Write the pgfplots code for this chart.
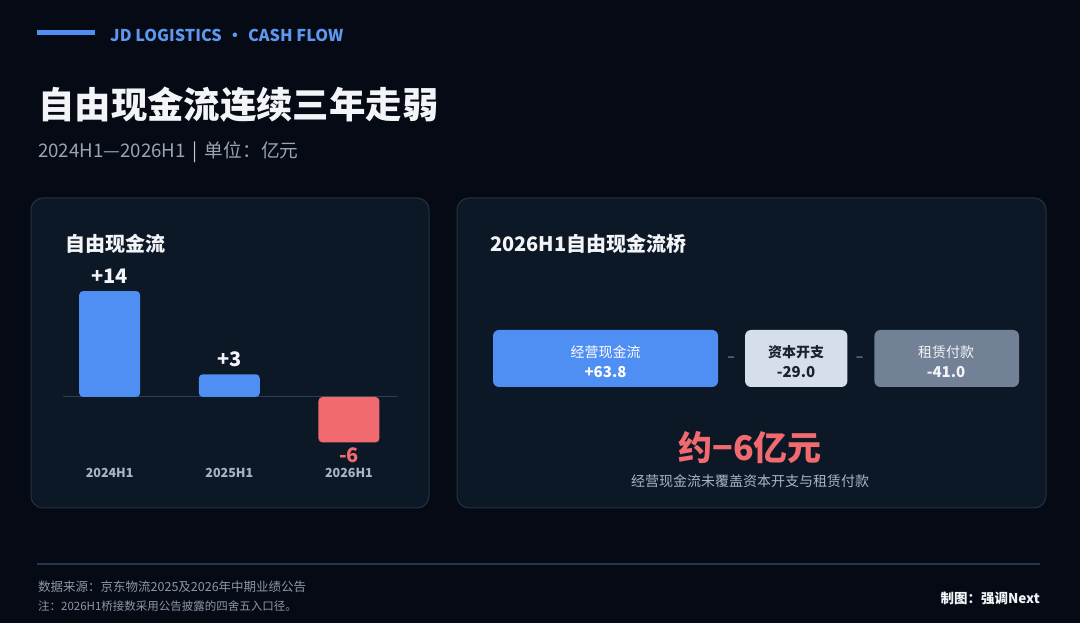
\documentclass[border=0pt]{standalone}
\usepackage{pgfplots}
\pgfplotsset{compat=1.18}
\usepackage{fontspec}
\setmainfont{Noto Sans CJK SC}
\definecolor{bg}{HTML}{050A14}
\definecolor{panel}{HTML}{0D1826}
\definecolor{panelborder}{HTML}{243246}
\definecolor{barblue}{HTML}{4F8EF2}
\definecolor{barred}{HTML}{F06A70}
\definecolor{headblue}{HTML}{5F97EE}
\definecolor{titlewhite}{HTML}{F2F4F8}
\definecolor{subgray}{HTML}{9AA4B2}
\definecolor{catgray}{HTML}{A9B4C4}
\definecolor{lightbox}{HTML}{D5DEEB}
\definecolor{graybox}{HTML}{738197}
\definecolor{sepline}{HTML}{22364F}
\definecolor{zeroline}{HTML}{2C3F58}
\definecolor{darktext}{HTML}{182232}
\definecolor{foot}{HTML}{8D97A6}
\newcommand\fs[1]{\fontsize{#1}{#1}\selectfont}
\begin{document}
\begin{tikzpicture}
\begin{scope}[x=1pt,y=-1pt,yshift=623pt]
\fill[bg] (0,0) rectangle (1080,623);
% header
\fill[barblue] (37,30) rectangle (95,35);
\node[anchor=west,inner sep=0,text=headblue] at (110,35.5) {\fs{16.3}\bfseries JD LOGISTICS\hspace{5pt}·\hspace{5pt}CASH FLOW};
\node[anchor=west,inner sep=0,text=titlewhite] at (38,105) {\fs{36.4}\bfseries 自由现金流连续三年走弱};
\node[anchor=west,inner sep=0,text=subgray] at (38,152) {\fs{18.7}2024H1—2026H1\hspace{7pt}{\color{subgray!60}|}\hspace{7pt}单位：亿元};
% panels
\draw[panelborder,fill=panel,rounded corners=12pt,line width=1pt] (31,198) rectangle (429,508);
\draw[panelborder,fill=panel,rounded corners=12pt,line width=1pt] (457,198) rectangle (1046,508);
\node[anchor=west,inner sep=0,text=titlewhite] at (65,244) {\fs{20}\bfseries 自由现金流};
\node[anchor=west,inner sep=0,text=titlewhite] at (490,244) {\fs{20}\bfseries 2026H1自由现金流桥};
\end{scope}
% left bar chart
\begin{axis}[at={(63pt,165.44pt)},anchor=south west,scale only axis,
  width=335pt,height=189.25pt,
  xmin=-0.39,xmax=2.41,ymin=-8,ymax=17,
  axis line style={draw=none},major tick length=0pt,
  ytick=\empty,xtick={0,1,2},xticklabels={2024H1,2025H1,2026H1},
  xticklabel style={font=\fs{12.5}\bfseries,text=catgray,yshift=-7pt},
  clip=false]
\draw[zeroline,line width=1pt] (axis cs:-0.39,0) -- (axis cs:2.41,0);
\addplot[ybar,bar width=61pt,bar shift=0pt,fill=barblue,draw=none,rounded corners=4pt,
  nodes near coords,point meta=explicit symbolic,
  every node near coord/.append style={font=\fs{20}\bfseries,text=titlewhite,anchor=south,yshift=4pt}]
  coordinates {(0,14)[+14] (1,3)[+3]};
\addplot[ybar,bar width=61pt,bar shift=0pt,fill=barred,draw=none,rounded corners=4pt,
  nodes near coords,point meta=explicit symbolic,
  every node near coord/.append style={font=\fs{20}\bfseries,text=barred,anchor=north,yshift=-2pt}]
  coordinates {(2,-6)[-6]};
\end{axis}
% right bridge boxes
\begin{axis}[at={(493pt,236pt)},anchor=south west,scale only axis,
  width=526pt,height=57pt,xmin=0,xmax=149.14,ymin=-0.5,ymax=0.5,
  hide axis,xbar stacked,bar width=57pt,clip=false]
\addplot[fill=barblue,draw=none,rounded corners=6pt] coordinates {(63.8,0)};
\addplot[fill=none,draw=none] coordinates {(7.67,0)};
\addplot[fill=lightbox,draw=none,rounded corners=6pt] coordinates {(29.0,0)};
\addplot[fill=none,draw=none] coordinates {(7.67,0)};
\addplot[fill=graybox,draw=none,rounded corners=6pt] coordinates {(41.0,0)};
\end{axis}
\begin{scope}[x=1pt,y=-1pt,yshift=623pt]
\node[inner sep=0,text=white] at (605.5,352) {\fs{14}经营现金流};
\node[inner sep=0,text=white] at (605.5,372) {\fs{15}\bfseries +63.8};
\node[inner sep=0,text=darktext] at (796,352) {\fs{14}\bfseries 资本开支};
\node[inner sep=0,text=darktext] at (796,372) {\fs{15}\bfseries -29.0};
\node[inner sep=0,text=titlewhite] at (946,352) {\fs{14}租赁付款};
\node[inner sep=0,text=titlewhite] at (946,372) {\fs{15}\bfseries -41.0};
\node[inner sep=0,text=subgray] at (731,359) {\fs{14}–};
\node[inner sep=0,text=subgray] at (859.5,359) {\fs{14}–};
\node[inner sep=0,text=barred] at (750,448) {\fs{34}\bfseries 约−6亿元};
\node[inner sep=0,text=catgray] at (750,481) {\fs{14}经营现金流未覆盖资本开支与租赁付款};
% footer
\draw[sepline,line width=1.3pt] (37,564) -- (1040,564);
\node[anchor=west,inner sep=0,text=foot] at (38,587) {\fs{12.5}数据来源：京东物流2025及2026年中期业绩公告};
\node[anchor=west,inner sep=0,text=foot] at (38,606) {\fs{11.5}注：2026H1桥接数采用公告披露的四舍五入口径。};
\node[anchor=east,inner sep=0,text=titlewhite] at (1040,599) {\fs{13.5}\bfseries 制图：强调Next};
\end{scope}
\end{tikzpicture}
\end{document}
